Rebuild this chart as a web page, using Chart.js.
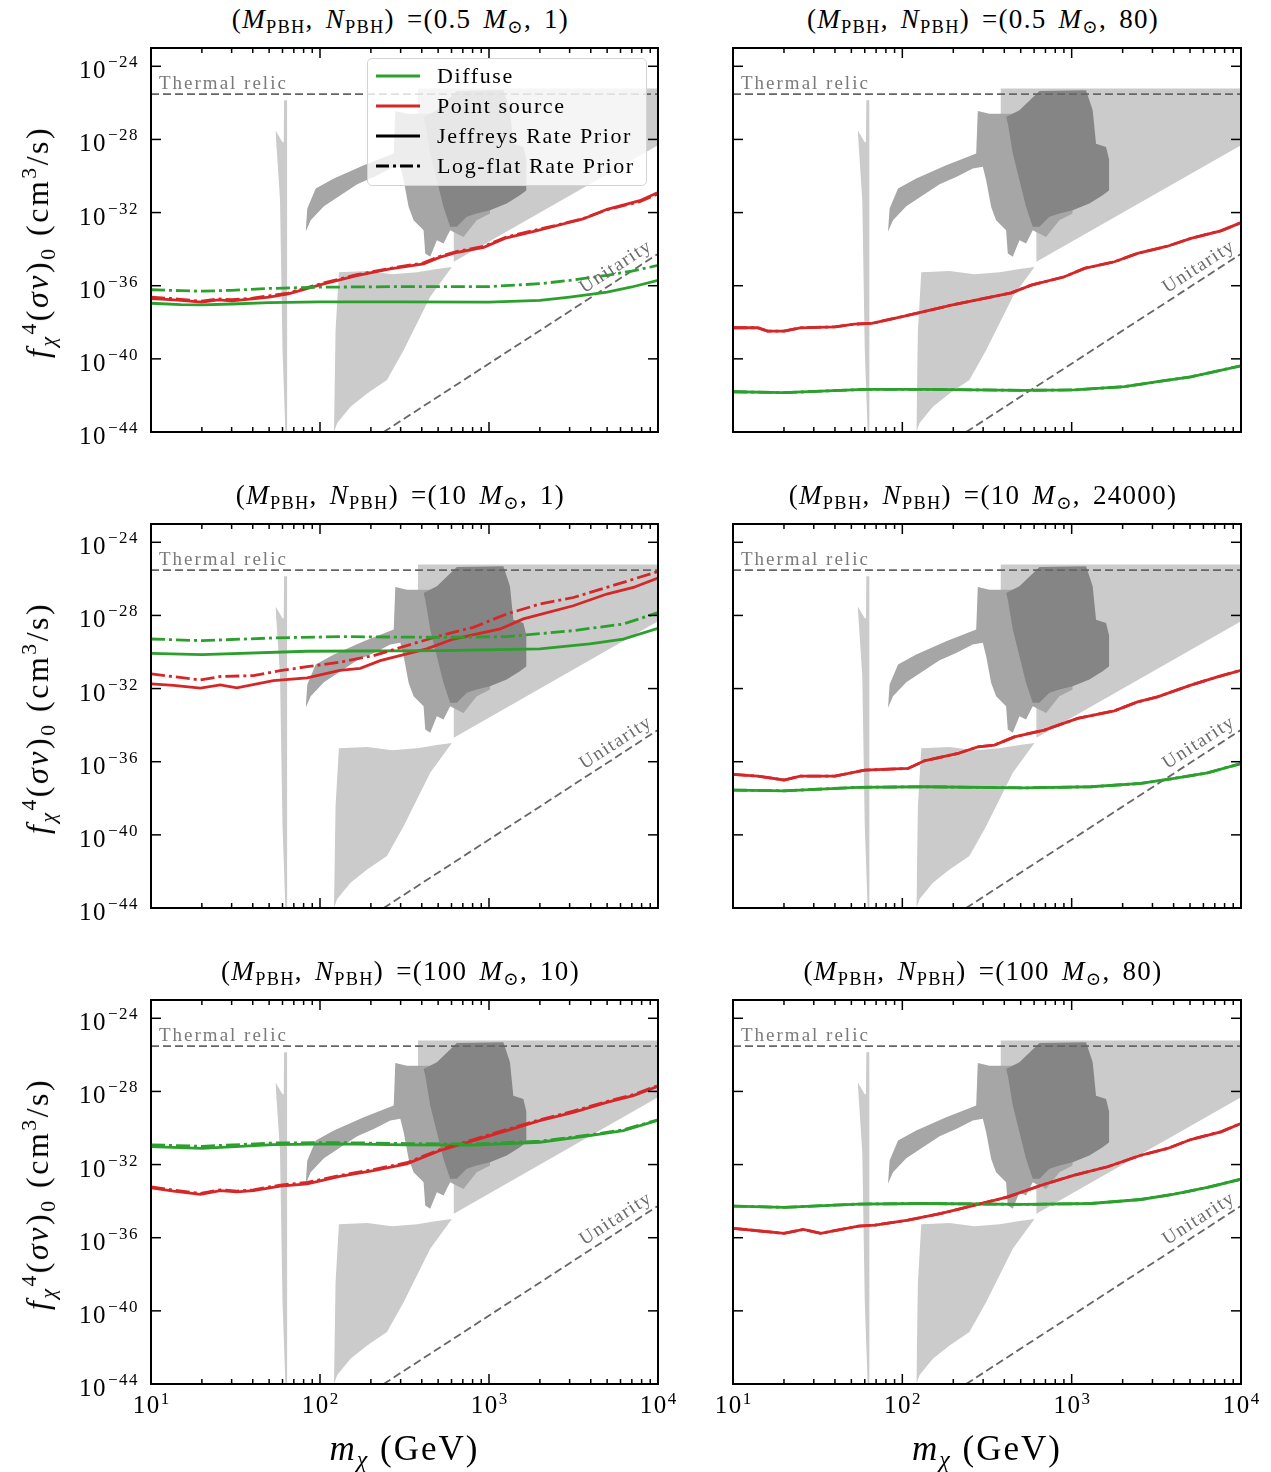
<!DOCTYPE html>
<html>
<head>
<meta charset="utf-8">
<title>PBH dark matter annihilation limits</title>
<script src="https://cdn.jsdelivr.net/npm/chart.js@4.4.1/dist/chart.umd.min.js"></script>
<style>
  body { margin: 0; background: #fff; }
  #fig { position: relative; width: 1271px; height: 1472px; overflow: hidden;
         font-family: 'Liberation Serif', 'DejaVu Serif', serif; color: #000; }
  #fig canvas { position: absolute; }
  .lbl { position: absolute; white-space: nowrap; line-height: 1; }
  .lbl sub, .lbl sup { font-size: 0.68em; line-height: 0; }
  .lbl sub { vertical-align: -0.3em; }
  .lbl sup { vertical-align: 0.55em; }
  .ttl { font-size: 27px; letter-spacing: 1.3px; word-spacing: 4px; transform: translate(-50%, -50%); }
  .xlab { font-size: 35px; letter-spacing: 2px; transform: translate(-50%, -50%); }
  .ylab { font-size: 32px; letter-spacing: 2.5px; transform: translate(-50%, -50%) rotate(-90deg); }
  #legend { position: absolute; left: 367px; top: 58px; width: 280px; height: 128px; z-index: 5;
            box-sizing: border-box; background: rgba(255,255,255,0.8);
            border: 1.5px solid #d4d4d4; border-radius: 5px; font-size: 22px; letter-spacing: 1.6px; }
  #legend .row { position: absolute; left: 0; height: 30px; display: flex; align-items: center; white-space: nowrap; }
  #legend svg { margin-left: 8px; margin-right: 17px; }
</style>
</head>
<body>
<div id="fig"><div id="legend"></div></div>
<script>
// ---------------- axes ----------------
const xTickExp = [1, 2, 3, 4];               // 10 GeV .. 10 TeV
const yTickExp = [-44, -40, -36, -32, -28, -24];
const yMinExp = -44, yMaxExp = -23;

// ---------------- reference lines ----------------
const thermalRelic = 3e-26;
const thermalX = [10, 10000];
const unitarityX = [238, 10000];
const unitarityE = [-44, -34.26];            // log10 <sigma v>

// ---------------- shaded regions (same in all panels), y as log10 ----------------
const higgsTopX = [54.5, 60, 61, 61.3, 64, 64.1];
const higgsTopE = [-27.5, -28.15, -28.15, -25.86, -25.86, -44];
const higgsBotX = [54.5, 58, 60, 62.4, 64.1];
const higgsBotE = [-27.5, -31.3, -39.5, -44, -44];

const wedgeTopX = [121, 123.6, 129.4, 190, 267, 375, 492, 603];
const wedgeTopE = [-44, -38.43, -35.26, -35.2, -35.37, -35.26, -35.09, -34.98];
const wedgeBotX = [121, 126.4, 151.5, 190, 249, 313, 449, 603];
const wedgeBotE = [-44, -43.51, -42.62, -41.89, -41.16, -39.52, -36.6, -34.98];

const lightTopX = [380, 10000];
const lightTopE = [-25.22, -25.22];
const lightBotX = [380, 380, 619, 619, 10000];
const lightBotE = [-25.22, -27.5, -32.8, -34.69, -28.32];

const midTopX = [82.3, 84.1, 94.3, 120.8, 181.6, 273, 279, 327, 392, 1014];
const midTopE = [-33.05, -31.78, -30.68, -30.14, -29.41, -28.77, -26.44, -26.59, -26.59, -26.59];
const midBotX = [82.3, 88.1, 105.5, 132.3, 166, 208, 260.8, 298.8, 312.6, 334.7, 358, 410, 419.6, 449, 491.7, 538, 589, 706, 846, 1014];
const midBotE = [-33.05, -32.42, -31.65, -31.05, -30.45, -30.05, -29.59, -29.5, -30.23, -31.69, -32.42, -32.96, -34.24, -34.42, -33.51, -33.69, -32.96, -33.33, -32.42, -32.05];

const darkTopX = [410, 491.7, 645, 1216, 1331, 1393, 1596, 1668];
const darkTopE = [-26.77, -26.4, -25.35, -25.31, -26.4, -28.23, -28.41, -29.14];
const darkBotX = [410, 419.6, 449, 491.7, 538, 589, 645, 739, 846, 1014, 1272, 1524, 1668];
const darkBotE = [-26.77, -27.13, -28.77, -30.23, -31.69, -32.78, -32.78, -32.23, -32.05, -31.87, -31.5, -31.05, -30.78];

// ---------------- limits, y as log10 ----------------
// (0.5 Msun, 1)
const p1GreenX = [10, 15, 20, 30, 50, 100, 300, 1000, 2000, 3000, 5000, 7000, 10000];
const p1GreenSolid = [-36.96, -37.03, -37.05, -37.0, -36.93, -36.88, -36.88, -36.9, -36.8, -36.62, -36.35, -36.07, -35.71];
const p1GreenDash = [-36.22, -36.27, -36.3, -36.25, -36.15, -36.08, -36.05, -36.05, -35.89, -35.71, -35.43, -35.2, -34.89];
const p1RedX = [10, 13, 15, 20, 25, 30, 40, 50, 65, 105, 165, 260, 410, 510, 650, 930, 1270, 1900, 2500, 3600, 5000, 7800, 10000];
const p1RedSolid = [-36.7, -36.76, -36.8, -36.9, -36.78, -36.83, -36.72, -36.62, -36.45, -35.9, -35.45, -35.08, -34.8, -34.45, -34.17, -33.9, -33.38, -33.0, -32.72, -32.35, -31.82, -31.35, -30.9];
const p1RedDash = [-36.62, -36.7, -36.75, -36.85, -36.72, -36.76, -36.68, -36.55, -36.4, -35.85, -35.4, -35.05, -34.75, -34.4, -34.12, -33.85, -33.33, -32.95, -32.7, -32.33, -31.84, -31.4, -30.98];

// (0.5 Msun, 80)
const p2RedX = [10, 14, 16, 20, 25, 40, 52, 66, 103, 195, 440, 577, 906, 1190, 1790, 2450, 3680, 5060, 7600, 10000];
const p2Red = [-38.3, -38.3, -38.48, -38.48, -38.3, -38.25, -38.1, -38.06, -37.66, -37.06, -36.39, -35.97, -35.51, -35.05, -34.69, -34.23, -33.84, -33.41, -33.0, -32.55];
const p2GreenX = [10, 20, 60, 135, 526, 1037, 2046, 3215, 5056, 10000];
const p2Green = [-41.8, -41.85, -41.67, -41.67, -41.72, -41.7, -41.52, -41.25, -40.98, -40.38];

// (10 Msun, 1)
const p3GreenSolidX = [10, 20, 84, 514, 1995, 3945, 6237, 10000];
const p3GreenSolid = [-30.07, -30.14, -29.96, -29.92, -29.83, -29.56, -29.29, -28.7];
const p3GreenDashX = [10, 20, 53, 131, 514, 1274, 3155, 6237, 10000];
const p3GreenDash = [-29.29, -29.38, -29.23, -29.16, -29.2, -29.16, -28.83, -28.47, -27.85];
const p3RedSolidX = [10, 13.6, 19.6, 25.7, 32.2, 53, 84, 131, 173, 227, 428, 616, 1164, 1597, 3155, 4977, 7145, 10000];
const p3RedSolid = [-31.74, -31.83, -31.98, -31.8, -31.96, -31.56, -31.41, -31.0, -30.89, -30.47, -29.83, -29.29, -28.74, -28.19, -27.47, -26.83, -26.47, -25.95];
const p3RedDashX = [10, 19.6, 25.7, 40.4, 58.2, 84, 131, 207, 326, 514, 809, 1274, 1995, 3155, 4977, 10000];
const p3RedDash = [-31.2, -31.53, -31.34, -31.29, -31.02, -30.8, -30.56, -30.2, -29.65, -29.11, -28.65, -27.92, -27.38, -27.02, -26.47, -25.6];

// (10 Msun, 24000)
const p4RedX = [10, 14, 20, 25, 40, 60, 108, 135, 213, 279, 350, 459, 690, 1084, 1786, 2449, 3215, 5056, 7262, 10000];
const p4Red = [-36.69, -36.79, -37.0, -36.79, -36.79, -36.46, -36.37, -35.95, -35.55, -35.19, -35.09, -34.64, -34.27, -33.63, -33.22, -32.73, -32.45, -31.81, -31.36, -31.0];
const p4GreenX = [10, 20, 55, 135, 526, 1300, 2564, 4036, 6340, 10000];
const p4Green = [-37.55, -37.59, -37.4, -37.37, -37.43, -37.37, -37.19, -36.91, -36.61, -36.1];

// (100 Msun, 10)
const p5GreenX = [10, 20, 53, 131, 326, 809, 1995, 3945, 6237, 10000];
const p5GreenSolid = [-31.02, -31.11, -30.91, -30.87, -30.92, -30.94, -30.78, -30.42, -30.14, -29.58];
const p5GreenDash = [-30.92, -31.0, -30.82, -30.8, -30.85, -30.88, -30.72, -30.38, -30.1, -29.55];
const p5RedX = [10, 13.6, 19.6, 25.7, 32.2, 40.4, 58.2, 84, 131, 207, 326, 514, 809, 1274, 1995, 3155, 4977, 7145, 10000];
const p5RedSolid = [-33.27, -33.45, -33.63, -33.42, -33.49, -33.42, -33.18, -33.05, -32.65, -32.33, -31.96, -31.23, -30.69, -30.14, -29.6, -29.14, -28.6, -28.23, -27.72];
const p5RedDash = [-33.22, -33.4, -33.58, -33.38, -33.45, -33.38, -33.12, -32.98, -32.6, -32.27, -31.9, -31.18, -30.63, -30.08, -29.55, -29.08, -28.55, -28.18, -27.68];

// (100 Msun, 80)
const p6RedX = [10, 14, 20, 26, 33, 55, 69, 108, 170, 255, 420, 661, 1037, 1631, 2564, 3681, 5056, 7603, 10000];
const p6Red = [-35.49, -35.62, -35.76, -35.55, -35.76, -35.37, -35.31, -35.04, -34.67, -34.27, -33.77, -33.13, -32.58, -32.12, -31.49, -31.12, -30.63, -30.21, -29.75];
const p6GreenX = [10, 20, 55, 135, 526, 1300, 2564, 4036, 6340, 10000];
const p6Green = [-34.27, -34.34, -34.16, -34.13, -34.18, -34.13, -33.91, -33.62, -33.25, -32.8];

// ---------------- titles / legend ----------------
const titleMass = ['0.5', '0.5', '10', '10', '100', '100'];
const titleN = ['1', '80', '1', '24000', '10', '80'];
const legendLabels = ['Diffuse', 'Point source', 'Jeffreys Rate Prior', 'Log-flat Rate Prior'];

// ---------------- style ----------------
const green = '#2ca02c', red = '#d62728';
const lightGray = '#cbcbcb', midGray = '#a6a6a6', darkGray = '#858585';
const solid = [], dashDot = [14, 4, 3, 4];
const serif = '"Liberation Serif", "DejaVu Serif", serif';

const panelCurves = [
  [[p1GreenX, p1GreenSolid, green, solid], [p1GreenX, p1GreenDash, green, dashDot],
   [p1RedX, p1RedSolid, red, solid], [p1RedX, p1RedDash, red, dashDot]],
  [[p2GreenX, p2Green, green, solid], [p2GreenX, p2Green, green, dashDot],
   [p2RedX, p2Red, red, solid], [p2RedX, p2Red, red, dashDot]],
  [[p3GreenSolidX, p3GreenSolid, green, solid], [p3GreenDashX, p3GreenDash, green, dashDot],
   [p3RedSolidX, p3RedSolid, red, solid], [p3RedDashX, p3RedDash, red, dashDot]],
  [[p4GreenX, p4Green, green, solid], [p4GreenX, p4Green, green, dashDot],
   [p4RedX, p4Red, red, solid], [p4RedX, p4Red, red, dashDot]],
  [[p5GreenX, p5GreenSolid, green, solid], [p5GreenX, p5GreenDash, green, dashDot],
   [p5RedX, p5RedSolid, red, solid], [p5RedX, p5RedDash, red, dashDot]],
  [[p6GreenX, p6Green, green, solid], [p6GreenX, p6Green, green, dashDot],
   [p6RedX, p6Red, red, solid], [p6RedX, p6Red, red, dashDot]]
];

const pts = (xs, es) => xs.map((x, i) => ({ x: x, y: Math.pow(10, es[i]) }));

// frame geometry
const colLeft = [151, 733], colW = [507, 508], rowTop = [48, 524, 1000], plotH = 384;
const padL = [100, 20], padT = 10, padR = 26, padB = 50;

function band(list, topX, topE, botX, botE, color, order) {
  const i = list.length;
  list.push({ data: pts(topX, topE), borderColor: 'rgba(0,0,0,0)', borderWidth: 0, pointRadius: 0,
              backgroundColor: color, fill: i + 1, order: order });
  list.push({ data: pts(botX, botE), borderColor: 'rgba(0,0,0,0)', borderWidth: 0, pointRadius: 0,
              fill: false, order: order });
}

function makeDecor(showY, showX) {
  return {
    id: 'decor',
    afterDatasetsDraw(chart) {
      const { ctx, chartArea: a, scales: { x, y } } = chart;
      ctx.save();
      ctx.font = '19px ' + serif;
      ctx.letterSpacing = '2px';
      ctx.fillStyle = '#7a7a7a';
      ctx.textAlign = 'left';
      ctx.textBaseline = 'alphabetic';
      ctx.fillText('Thermal relic', a.left + 8, y.getPixelForValue(thermalRelic) - 5);
      // label along the unitarity line
      const ux0 = x.getPixelForValue(unitarityX[0]), uy0 = y.getPixelForValue(Math.pow(10, unitarityE[0]));
      const ux1 = x.getPixelForValue(unitarityX[1]), uy1 = y.getPixelForValue(Math.pow(10, unitarityE[1]));
      const ang = Math.atan2(uy1 - uy0, ux1 - ux0);
      const ax = a.right - 1;
      const ay = uy0 + (ax - ux0) * (uy1 - uy0) / (ux1 - ux0);
      ctx.translate(ax, ay);
      ctx.rotate(ang);
      ctx.fillStyle = '#6a6a6a';
      ctx.letterSpacing = '1.5px';
      ctx.textAlign = 'right';
      ctx.fillText('Unitarity', 0, -7);
      ctx.restore();
    },
    afterDraw(chart) {
      const { ctx, chartArea: a, scales: { x, y } } = chart;
      ctx.save();
      ctx.strokeStyle = '#000';
      ctx.lineWidth = 1.5;
      const seg = (x1, y1, x2, y2) => { ctx.beginPath(); ctx.moveTo(x1, y1); ctx.lineTo(x2, y2); ctx.stroke(); };
      // x ticks, inward, bottom and top
      xTickExp.forEach((e, k) => {
        const px = x.getPixelForValue(Math.pow(10, e));
        seg(px, a.bottom, px, a.bottom - 10);
        seg(px, a.top, px, a.top + 10);
        if (k < xTickExp.length - 1) {
          for (let m = 2; m <= 9; m++) {
            const pm = x.getPixelForValue(m * Math.pow(10, e));
            seg(pm, a.bottom, pm, a.bottom - 5);
            seg(pm, a.top, pm, a.top + 5);
          }
        }
      });
      // y ticks, inward, left and right
      yTickExp.forEach(e => {
        const py = y.getPixelForValue(Math.pow(10, e));
        seg(a.left, py, a.left + 10, py);
        seg(a.right, py, a.right - 10, py);
      });
      ctx.lineWidth = 2;
      ctx.strokeRect(a.left, a.top, a.right - a.left, a.bottom - a.top);

      ctx.fillStyle = '#000';
      ctx.textBaseline = 'alphabetic';
      const baseFont = '25px ' + serif, expFont = '17px ' + serif;
      if (showY) {
        yTickExp.forEach(e => {
          const py = y.getPixelForValue(Math.pow(10, e));
          const s = '\u2212' + Math.abs(e);
          ctx.font = expFont;
          ctx.letterSpacing = '1.5px';
          const w = ctx.measureText(s).width;
          ctx.textAlign = 'right';
          ctx.fillText(s, a.left - 12, py + 1);
          ctx.font = baseFont;
          ctx.letterSpacing = '1.5px';
          ctx.fillText('10', a.left - 13 - w, py + 12);
        });
      }
      if (showX) {
        xTickExp.forEach(e => {
          const px = x.getPixelForValue(Math.pow(10, e));
          ctx.font = baseFont;
          ctx.letterSpacing = '1.5px';
          const w1 = ctx.measureText('10').width;
          ctx.font = expFont;
          ctx.letterSpacing = '0px';
          const s = String(e);
          const w2 = ctx.measureText(s).width;
          const left = px - (w1 + w2) / 2;
          ctx.textAlign = 'left';
          ctx.font = baseFont;
          ctx.letterSpacing = '1.5px';
          ctx.fillText('10', left, a.bottom + 29);
          ctx.font = expFont;
          ctx.letterSpacing = '0px';
          ctx.fillText(s, left + w1, a.bottom + 20);
        });
      }
      ctx.restore();
    }
  };
}

const fig = document.getElementById('fig');

function addLabel(cls, html, cx, cy) {
  const d = document.createElement('div');
  d.className = 'lbl ' + cls;
  d.innerHTML = html;
  d.style.left = cx + 'px';
  d.style.top = cy + 'px';
  fig.appendChild(d);
}

panelCurves.forEach((curves, p) => {
  const col = p % 2, row = Math.floor(p / 2);
  const cv = document.createElement('canvas');
  const cw = padL[col] + colW[col] + padR, ch = padT + plotH + padB;
  cv.width = cw; cv.height = ch;
  cv.style.left = (colLeft[col] - padL[col]) + 'px';
  cv.style.top = (rowTop[row] - padT) + 'px';
  cv.style.width = cw + 'px'; cv.style.height = ch + 'px';
  fig.insertBefore(cv, document.getElementById('legend'));

  const ds = [];
  curves.forEach(c => {
    ds.push({ data: pts(c[0], c[1]), borderColor: c[2], borderDash: c[3], borderWidth: 2.8,
              pointRadius: 0, fill: false, order: c[3].length ? 1 : 2 });
  });
  ds.push({ data: thermalX.map(v => ({ x: v, y: thermalRelic })), borderColor: '#666', borderWidth: 1.8,
            borderDash: [8, 4], pointRadius: 0, fill: false, order: 3 });
  ds.push({ data: pts(unitarityX, unitarityE), borderColor: '#666', borderWidth: 1.8,
            borderDash: [8, 4], pointRadius: 0, fill: false, order: 3 });
  band(ds, lightTopX, lightTopE, lightBotX, lightBotE, lightGray, 14);
  band(ds, wedgeTopX, wedgeTopE, wedgeBotX, wedgeBotE, lightGray, 13);
  band(ds, higgsTopX, higgsTopE, higgsBotX, higgsBotE, lightGray, 13);
  band(ds, midTopX, midTopE, midBotX, midBotE, midGray, 12);
  band(ds, darkTopX, darkTopE, darkBotX, darkBotE, darkGray, 11);

  new Chart(cv, {
    type: 'line',
    data: { datasets: ds },
    options: {
      responsive: false,
      animation: false,
      devicePixelRatio: 1,
      layout: { padding: { top: padT, right: padR, left: 0, bottom: 0 } },
      plugins: { legend: { display: false }, tooltip: { enabled: false } },
      elements: { line: { tension: 0 }, point: { radius: 0 } },
      scales: {
        x: {
          type: 'logarithmic', min: 10, max: 10000,
          ticks: { display: false }, grid: { display: false }, border: { display: false },
          afterBuildTicks: s => { s.ticks = xTickExp.map(e => ({ value: Math.pow(10, e) })); },
          afterFit: s => { s.height = padB; }
        },
        y: {
          type: 'logarithmic', min: Math.pow(10, yMinExp), max: Math.pow(10, yMaxExp),
          ticks: { display: false }, grid: { display: false }, border: { display: false },
          afterBuildTicks: s => { s.ticks = yTickExp.map(e => ({ value: Math.pow(10, e) })); },
          afterFit: s => { s.width = padL[col]; }
        }
      }
    },
    plugins: [makeDecor(col === 0, row === 2)]
  });

  const cx = colLeft[col] + colW[col] / 2;
  addLabel('ttl', '(<i>M</i><sub>PBH</sub>, <i>N</i><sub>PBH</sub>) =(' + titleMass[p] +
           ' <i>M</i><sub>\u2299</sub>, ' + titleN[p] + ')', cx - 4, rowTop[row] - 29);
  if (col === 0) {
    addLabel('ylab', '<i>f</i><sub><i>\u03c7</i></sub><sup>4</sup>(<i>\u03c3v</i>)<sub>0</sub> (cm<sup>3</sup>/s)',
             37, rowTop[row] + plotH / 2 + 2);
  }
  if (row === 2) {
    addLabel('xlab', '<i>m</i><sub><i>\u03c7</i></sub> (GeV)', cx, 1448);
  }
});

// legend (top-left panel only)
const legend = document.getElementById('legend');
const legendStyles = [[green, ''], [red, ''], ['#000', ''], ['#000', '13 4 3 4']];
legendLabels.forEach((txt, i) => {
  const r = document.createElement('div');
  r.className = 'row';
  r.style.top = (2 + i * 30) + 'px';
  const dash = legendStyles[i][1] ? ' stroke-dasharray="' + legendStyles[i][1] + '"' : '';
  r.innerHTML = '<svg width="44" height="6"><line x1="0" y1="3" x2="44" y2="3" stroke="' +
                legendStyles[i][0] + '" stroke-width="2.8"' + dash + '/></svg><span>' + txt + '</span>';
  legend.appendChild(r);
});
</script>
</body>
</html>
